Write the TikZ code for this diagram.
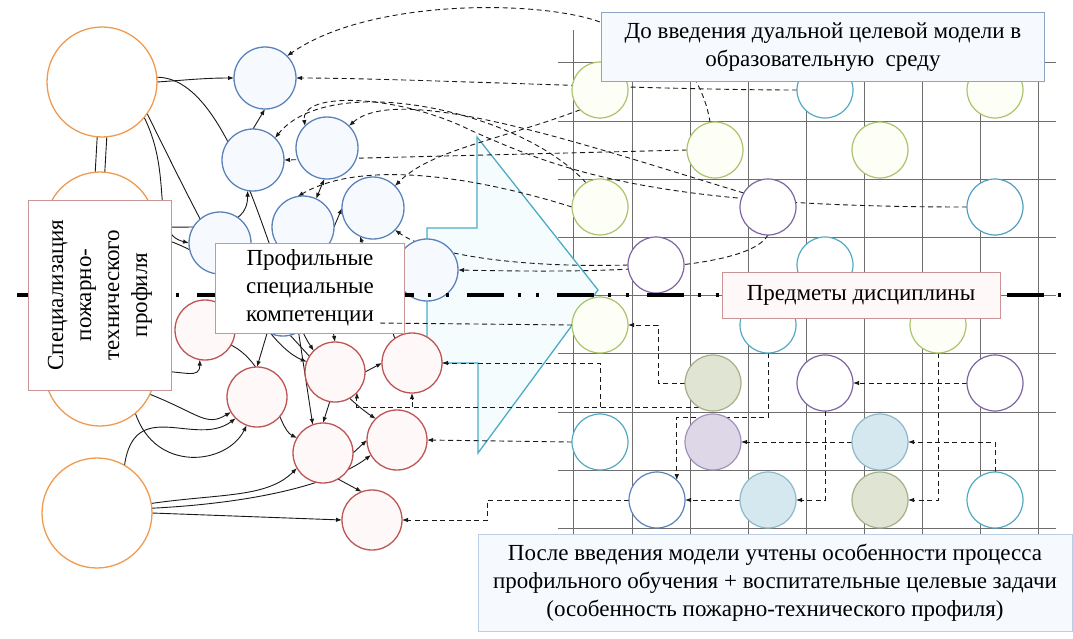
\documentclass[tikz,border=0pt]{standalone}
\usepackage{fontspec}
\setmainfont{Liberation Serif}
\usetikzlibrary{arrows.meta}

\definecolor{ringOrange}{RGB}{240,155,80}
\definecolor{ringBlue}{RGB}{90,130,185}
\definecolor{ringRed}{RGB}{190,85,85}
\definecolor{ringGreen}{RGB}{170,195,105}
\definecolor{ringCyan}{RGB}{80,170,195}
\definecolor{ringPurple}{RGB}{125,100,160}
\definecolor{paleBlue}{RGB}{246,250,254}
\definecolor{palePink}{RGB}{255,248,248}
\definecolor{paleYellow}{RGB}{253,254,246}
\definecolor{oliveFill}{RGB}{224,228,210}
\definecolor{oliveRing}{RGB}{165,175,135}
\definecolor{lilacFill}{RGB}{222,215,232}
\definecolor{lilacRing}{RGB}{160,145,185}
\definecolor{iceFill}{RGB}{214,232,239}
\definecolor{iceRing}{RGB}{140,185,200}
\definecolor{gridGrey}{RGB}{110,110,110}
\definecolor{arrowTeal}{RGB}{75,172,198}
\definecolor{boxBlue}{RGB}{140,165,195}
\definecolor{boxPink}{RGB}{200,150,150}
\definecolor{boxIce}{RGB}{185,205,230}

\pgfdeclarelayer{gridlayer}
\pgfdeclarelayer{links}
\pgfdeclarelayer{front}
\pgfsetlayers{gridlayer,links,main,front}

\begin{document}
\begin{tikzpicture}[x=1pt,y=-1pt,
    every node/.style={inner sep=0pt, outer sep=0pt},
    ringO/.style={circle, draw=ringOrange, line width=1.3pt, fill=white, minimum size=110pt},
    ringB/.style={circle, draw=ringBlue, line width=1.3pt, fill=paleBlue, minimum size=62pt},
    ringR/.style={circle, draw=ringRed, line width=1.3pt, fill=palePink, minimum size=60pt},
    cell/.style={circle, line width=1.2pt, minimum size=56pt},
    cellG/.style={cell, draw=ringGreen, fill=paleYellow},
    cellC/.style={cell, draw=ringCyan, fill=white},
    cellP/.style={cell, draw=ringPurple, fill=white},
    cellB/.style={cell, draw=ringBlue, fill=white},
    cellOl/.style={cell, draw=oliveRing, fill=oliveFill},
    cellLi/.style={cell, draw=lilacRing, fill=lilacFill},
    cellIce/.style={cell, draw=iceRing, fill=iceFill},
    gridrule/.style={draw=gridGrey, line width=0.7pt},
    bigarrow/.style={draw=arrowTeal, line width=1.3pt, fill=cyan!4},
    plain/.style={draw=black!90, line width=0.9pt},
    link/.style={plain, -{Latex[length=6pt,width=4.5pt]}},
    duallink/.style={plain, {Latex[length=6pt,width=4.5pt]}-{Latex[length=6pt,width=4.5pt]}},
    dlink/.style={link, dash pattern=on 5pt off 3.5pt},
    dline/.style={plain, dash pattern=on 5pt off 3.5pt},
    axisline/.style={draw=black, line width=4pt, dash pattern=on 37pt off 14pt on 3pt off 15pt on 3pt off 18pt, dash phase=78pt},
    textbox/.style={draw, line width=0.9pt, align=center, font=\fontsize{23}{28}\selectfont}
  ]
  \useasboundingbox (0,0) rectangle (1073,638);

  % grid and big arrow
  \begin{pgfonlayer}{gridlayer}
    \foreach \x in {573,632,690,748,806,864,922,980,1038}
      \draw[gridrule] (\x,30) -- (\x,542);
    \foreach \y in {62,121,179,237,295,353,412,470,528}
      \draw[gridrule] (558,\y) -- (1056,\y);
    \draw[bigarrow] (427,228) -- (477,228) -- (477,137) -- (598,290) -- (478,453)
      -- (478,363) -- (427,363) -- cycle;
  \end{pgfonlayer}

  % specialisation
  \node[ringO] (o1) at (102,82) {};
  \node[ringO] (o2) at (100,227) {};
  \node[ringO] (o3) at (100,371) {};
  \node[ringO] (o4) at (97,513) {};

  % competences
  \node[ringB] (b1) at (265,78) {};
  \node[ringB] (b2) at (253,160) {};
  \node[ringB] (b3) at (327,148) {};
  \node[ringB] (b4) at (303,227) {};
  \node[ringB] (b5) at (220,243) {};
  \node[ringB] (b6) at (283,305) {};
  \node[ringB] (b7) at (373,208) {};
  \node[ringB] (b8) at (427,270) {};

  \node[ringR] (r1) at (205,330) {};
  \node[ringR] (r2) at (257,397) {};
  \node[ringR] (r3) at (335,372) {};
  \node[ringR] (r4) at (323,453) {};
  \node[ringR] (r5) at (412,363) {};
  \node[ringR] (r6) at (397,440) {};
  \node[ringR] (r7) at (372,520) {};

  % subjects
  \node[cellG] (g1) at (600,90) {};
  \node[cellC] (c1) at (825,90) {};
  \node[cellG] (g4) at (995,90) {};
  \node[cellG] (g2) at (715,150) {};
  \node[cellG] (g5) at (880,150) {};
  \node[cellG] (g3) at (600,207) {};
  \node[cellP] (p1) at (768,207) {};
  \node[cellC, draw=ringCyan!70!ringBlue] (bl1) at (995,207) {};
  \node[cellP] (p2) at (656,265) {};
  \node[cellC] (c2) at (825,265) {};
  \node[cellG] (g6) at (600,325) {};
  \node[cellC] (c3) at (768,325) {};
  \node[cellG] (g7) at (938,325) {};
  \node[cellOl] (ol1) at (713,383) {};
  \node[cellP] (p3) at (825,383) {};
  \node[cellP] (p4) at (995,383) {};
  \node[cellC] (c4) at (600,442) {};
  \node[cellLi] (pf) at (713,442) {};
  \node[cellIce] (lb1) at (880,442) {};
  \node[cellB] (bb) at (657,500) {};
  \node[cellIce] (lb2) at (768,500) {};
  \node[cellOl] (ol2) at (880,500) {};
  \node[cellC] (c5) at (995,500) {};

  \begin{pgfonlayer}{links}
    % solid links
    \draw[link] (o1.east) .. controls +(30,-2) and +(-30,0) .. (b1.west);
    \draw[plain] (o1.-95) -- (o2.95);
    \draw[plain] (o1.-85) -- (o2.85);
    \draw[link] (o1.5) .. controls +(80,0) and +(-40,-60) .. (r3.135);
    \draw[link] (o1.-40) .. controls +(30,60) and +(-40,-10) .. (b5.west);
    \draw[link] (o1.-35) .. controls +(45,90) and +(-50,-20) .. (r3.160);
    \draw[link] (o2.east) .. controls +(50,0) and +(0,40) .. (b2.-100);
    \draw[link] (o2.-10) .. controls +(90,20) and +(-60,-40) .. (r6.135);
    \draw[link] (o3.east) .. controls +(30,0) and +(0,20) .. (r1.-100);
    \draw[link] (o3.-25) .. controls +(50,20) and +(-25,15) .. (r2.-150);
    \draw[link] (o3.-50) .. controls +(20,60) and +(-20,40) .. (r2.-110);
    \draw[link] (o4.60) .. controls +(10,-70) and +(-40,30) .. (r2.-135);
    \draw[link] (o4.10) .. controls +(70,-10) and +(-30,30) .. (r4.-150);
    \draw[link] (o4.5) .. controls +(100,-5) and +(-40,30) .. (r6.-150);
    \draw[link] (o4.east) -- (r7.west);
    \draw[link] (r1.-30) .. controls +(40,20) and +(-20,-10) .. (r4.150);
    \draw[link] (b6.-120) -- (r2.north);
    \draw[link] (b6.-60) -- (r4.110);
    \draw[link] (b4.-80) .. controls +(5,40) and +(-5,-30) .. (r3.north);
    \draw[link] (r3.east) -- (r5.west);
    \draw[link] (r3.-100) -- (r4.north);
    \draw[link] (r4.east) -- (r6.west);
    \draw[link] (r4.-60) -- (r7.110);
    \draw[link] (b2.north) -- (b1.south);
    \draw[duallink] (b3.-95) -- (b4.65);
    \draw[link] (b4.east) -- (b7.west);
    \draw[link] (r5.125) -- (b7.-115);

    % dashed links, top
    \draw[dlink] (g2.100) .. controls (700,60) and (650,25) .. (600,22)
      .. controls (540,0) and (370,-2) .. (b1.45);
    \draw[dlink] (c1.west) .. controls (650,90) and (400,78) .. (b1.east);
    \draw[dlink] (g3.120) .. controls (520,110) and (330,70) .. (b2.45);
    \draw[dlink] (g2.west) -- (b2.east);
    \draw[dlink] (g1.-135) .. controls (500,140) and (430,150) .. (b7.45);
    \draw[dlink] (bl1.west) .. controls (650,207) and (560,170) .. (470,130)
      .. controls (400,95) and (300,90) .. (b3.135);
    \draw[dlink] (p1.150) .. controls (600,150) and (400,80) .. (b3.45);
    \draw[dlink] (p1.south) .. controls (745,275) and (560,272) .. (b8.east);
    \draw[dlink] (p2.west) .. controls (520,268) and (430,255) .. (b7.-45);
    \draw[dlink] (g3.west) .. controls (470,175) and (360,160) .. (b4.100);

    % dashed links, bottom
    \draw[dlink] (ol1.-120) -- (r3.-43 |- ol1.-120) -- (r3.-43);
    \draw[dlink] (r5.south |- ol1.-120) -- (r5.south);
    \draw[dlink] (g6.south |- ol1.-120) |- (r5.east);
    \draw[dlink] (c4.west) -- (r6.east);
    \draw[dlink] (bb.west) -- ++(-142,0) |- (r7.east);

    % dashed links inside the grid
    \draw[dlink] (ol1.west) -- ++(-27,0) |- (g6.east);
    \draw[dlink] (p4.west) -- (p3.east);
    \draw[dlink] (g7.south) |- (ol2.east);
    \draw[dlink] (c5.north) |- (lb1.east);
    \draw[dlink] (lb1.west) -- (pf.east);
    \draw[dlink] (p3.south) |- (lb2.east);
    \draw[dlink] (c3.south) -- ++(0,64) -| (bb.45);
    \draw[dlink] (lb2.west) -- (bb.east);
  \end{pgfonlayer}

  % dividing line
  \coordinate (axisL) at (5,295);
  \coordinate (axisR) at (1062,295);
  \draw[axisline] (axisL) -- (axisR);

  % labels
  \node[textbox, draw=boxPink, fill=white, rotate=90, minimum width=190pt, minimum height=143pt]
    (spec) at (100,295) {Специализация\\пожарно-\\технического\\профиля};
  \node[textbox, draw=boxPink, fill=white, minimum width=189pt, minimum height=90pt]
    (komp) at (310,288) {Профильные\\специальные\\компетенции};
  \node[textbox, draw=boxBlue, fill=paleBlue, minimum width=443pt, minimum height=69pt]
    (before) at (823,47) {До введения дуальной целевой модели в\\образовательную\ \ среду};
  \node[textbox, draw=boxPink, fill=palePink, minimum width=278pt, minimum height=46pt]
    (subj) at (861,295) {Предметы дисциплины};
  \node[textbox, draw=boxIce, fill=paleBlue, minimum width=594pt, minimum height=97pt]
    (after) at (775,583) {После введения модели учтены особенности процесса\\
      профильного обучения + воспитательные целевые задачи\\
      (особенность пожарно-технического профиля)};

  \begin{pgfonlayer}{front}
    \coordinate (kompEnd) at (377,323);
    \draw[dline] (g6.west) -- (kompEnd);
  \end{pgfonlayer}
\end{tikzpicture}
\end{document}
